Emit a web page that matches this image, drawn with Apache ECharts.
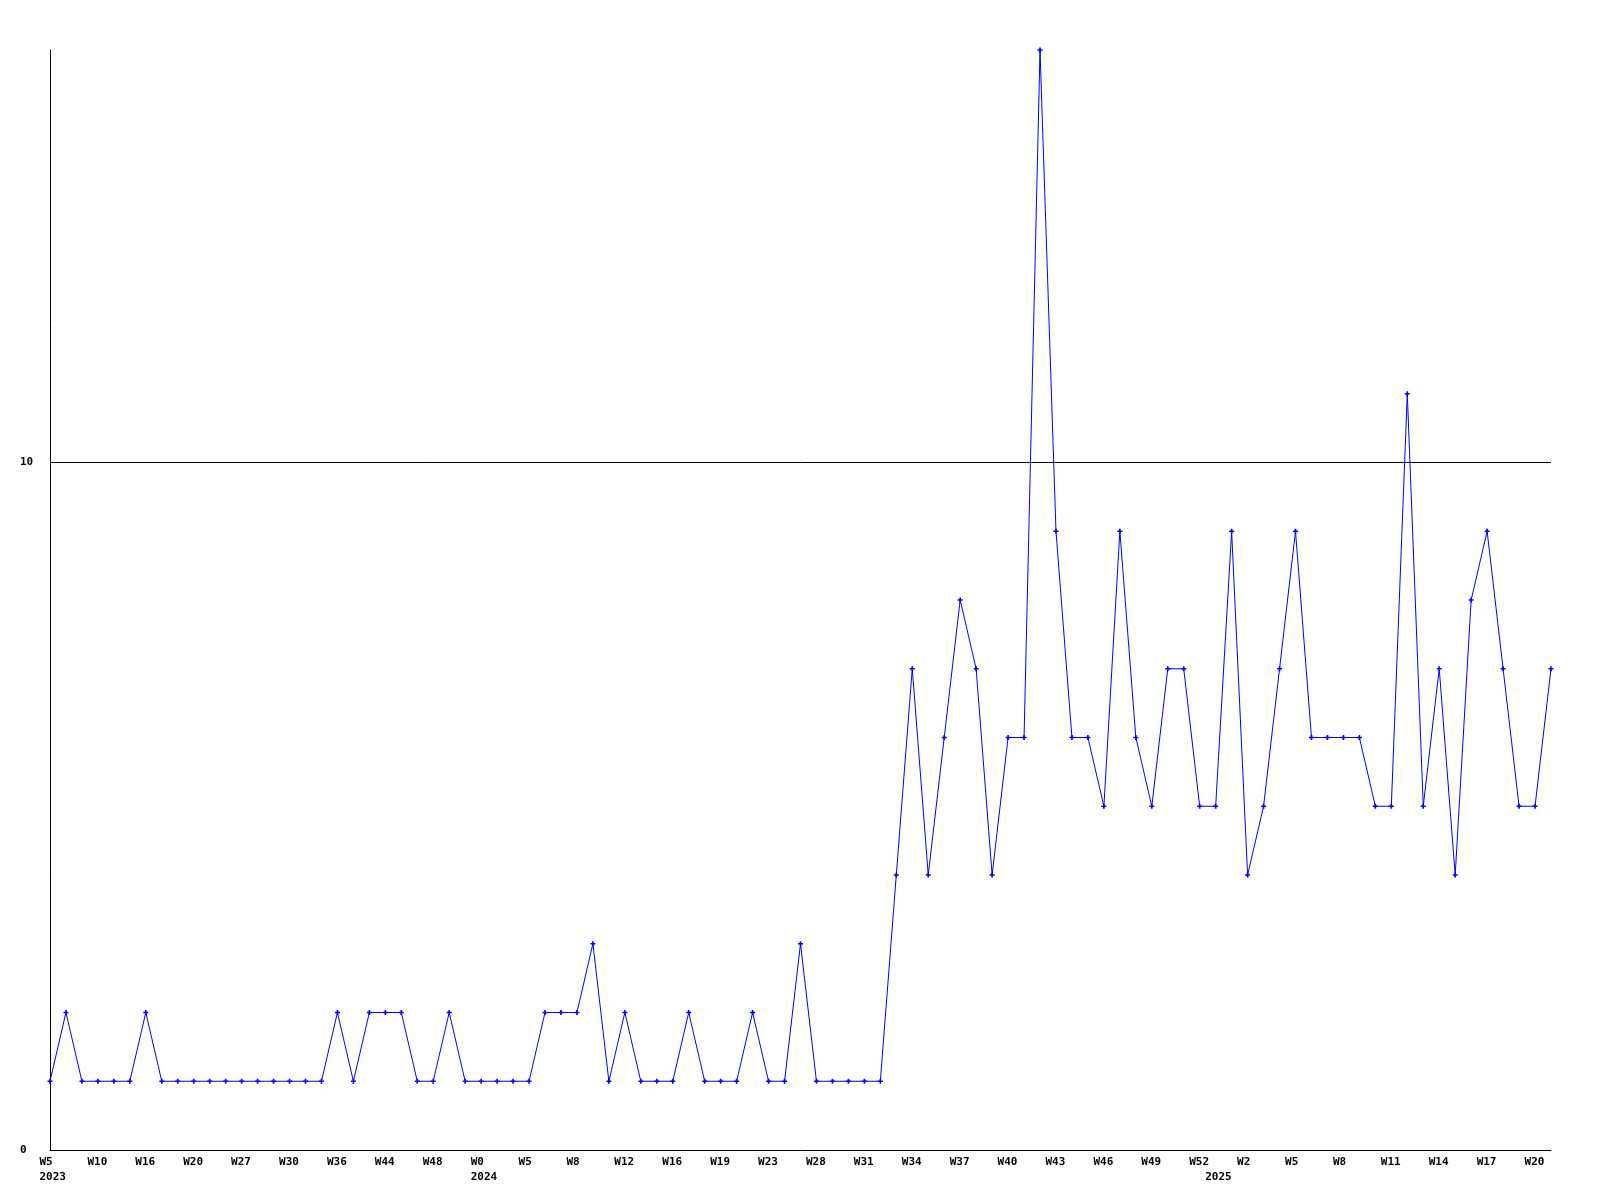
<!DOCTYPE html>
<html>
<head>
<meta charset="utf-8">
<style>
html,body{margin:0;padding:0;background:#fff;}
#chart{width:1600px;height:1200px;}
</style>
<script src="https://cdn.jsdelivr.net/npm/echarts@6/dist/echarts.min.js"></script>
</head>
<body>
<div id="chart"></div>
<script>
// values, one per week (95 points)
const values = [
  1,2,1,1,1,1,2,1,1,1,
  1,1,1,1,1,1,1,1,2,1,
  2,2,2,1,1,2,1,1,1,1,
  1,2,2,2,3,1,2,1,1,1,
  2,1,1,1,2,1,1,3,1,1,
  1,1,1,4,7,4,6,8,7,4,
  6,6,16,9,6,6,5,9,6,5,
  7,7,5,5,9,4,5,7,9,6,
  6,6,6,5,5,11,5,7,4,8,
  9,7,5,5,7
];
// week tick labels, shown every 3rd point
const weekLabels = ['W5','W10','W16','W20','W27','W30','W36','W44','W48','W0','W5','W8',
  'W12','W16','W19','W23','W28','W31','W34','W37','W40','W43','W46','W49','W52','W2',
  'W5','W8','W11','W14','W17','W20'];
const weekLabelStep = 3;
// year labels and the point index they sit under
const yearIndex = [0, 27, 73];
const yearLabels = ['2023', '2024', '2025'];
// y tick labels
const yTicks = [0, 10];
const refLineValue = 10;

const categories = values.map((v, i) => String(i));

const FONT = 'DejaVu Sans Mono';
const chart = echarts.init(document.getElementById('chart'), null, {renderer: 'canvas'});

chart.setOption({
  animation: false,
  backgroundColor: '#ffffff',
  grid: {left: 50, right: 49, top: 50, bottom: 50, containLabel: false},
  xAxis: {
    type: 'category',
    data: categories,
    boundaryGap: false,
    axisLine: {show: true, lineStyle: {color: '#000', width: 1}},
    axisTick: {show: false},
    splitLine: {show: false},
    axisLabel: {
      interval: 0,
      margin: 5,
      align: 'center',
      verticalAlign: 'top',
      formatter: function (value, index) {
        const wi = (index % weekLabelStep === 0) ? index / weekLabelStep : -1;
        const w = (wi >= 0 && wi < weekLabels.length) ? weekLabels[wi] : '';
        const yi = yearIndex.indexOf(index);
        if (!w && yi < 0) return '';
        let s = '{w|' + (w || ' ') + '}';
        if (yi >= 0) s += '\n{y|' + yearLabels[yi] + '}';
        return s;
      },
      rich: {
        w: {width: 21, align: 'left', fontFamily: FONT, fontWeight: 'bold', fontSize: 11, lineHeight: 15, color: '#000'},
        y: {width: 21, align: 'left', fontFamily: FONT, fontWeight: 'bold', fontSize: 11, lineHeight: 15, color: '#000'}
      }
    }
  },
  yAxis: {
    type: 'value',
    min: 0,
    max: 16,
    interval: 10,
    axisLine: {show: true, lineStyle: {color: '#000', width: 1}},
    axisTick: {show: false},
    splitLine: {show: false},
    axisLabel: {
      margin: 30,
      align: 'left',
      verticalAlign: 'middle',
      padding: [2, 0, 0, 0],
      fontFamily: FONT,
      fontWeight: 'bold',
      fontSize: 11,
      color: '#000',
      formatter: function (v) { return yTicks.indexOf(v) >= 0 ? String(v) : ''; }
    }
  },
  series: [{
    type: 'line',
    data: values,
    symbol: 'path://M2,0H4V2H6V4H4V6H2V4H0V2H2Z',
    symbolSize: 5,
    showSymbol: true,
    itemStyle: {color: '#0000ff'},
    lineStyle: {color: '#0000ff', width: 1},
    markLine: {
      silent: true,
      symbol: 'none',
      label: {show: false},
      lineStyle: {color: '#000', width: 1, type: 'solid'},
      data: [{yAxis: refLineValue}]
    }
  }]
});
</script>
</body>
</html>
